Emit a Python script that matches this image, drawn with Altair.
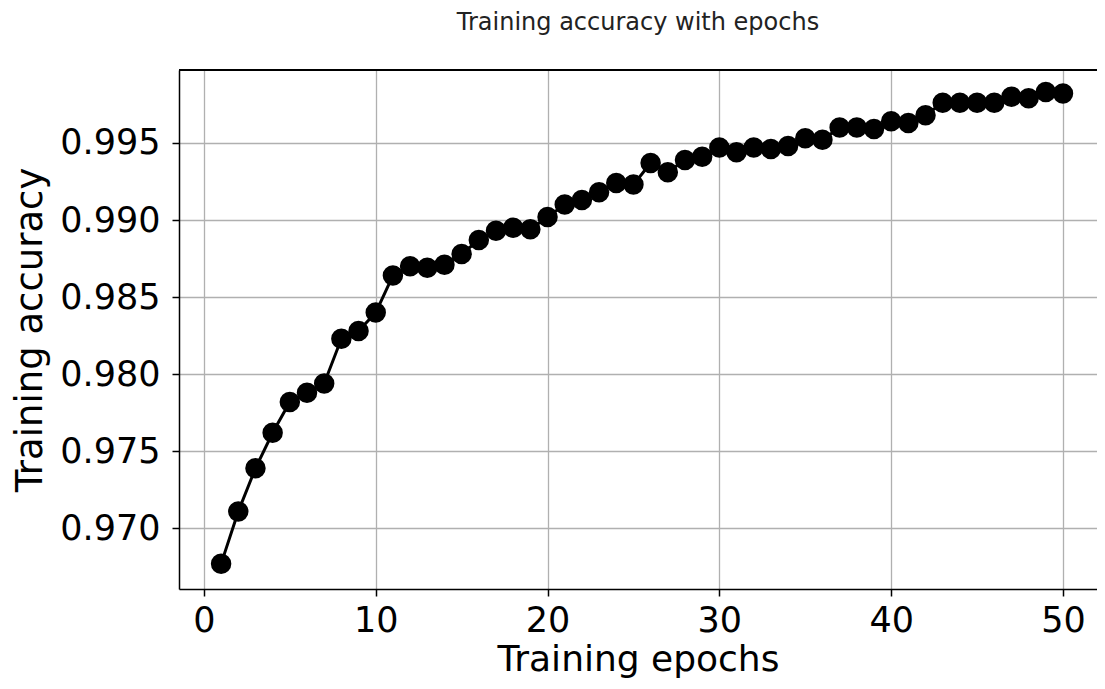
import altair as alt
import pandas as pd

epochs = [1, 2, 3, 4, 5, 6, 7, 8, 9, 10,
          11, 12, 13, 14, 15, 16, 17, 18, 19, 20,
          21, 22, 23, 24, 25, 26, 27, 28, 29, 30,
          31, 32, 33, 34, 35, 36, 37, 38, 39, 40,
          41, 42, 43, 44, 45, 46, 47, 48, 49, 50]
accuracy = [0.9677, 0.9711, 0.9739, 0.9762, 0.9782, 0.9788, 0.9794, 0.9823, 0.9828, 0.9840,
            0.9864, 0.9870, 0.9869, 0.9871, 0.9878, 0.9887, 0.9893, 0.9895, 0.9894, 0.9902,
            0.9910, 0.9913, 0.9918, 0.9924, 0.9923, 0.9937, 0.9931, 0.9939, 0.9941, 0.9947,
            0.9944, 0.9947, 0.9946, 0.9948, 0.9953, 0.9952, 0.9960, 0.9960, 0.9959, 0.9964,
            0.9963, 0.9968, 0.9976, 0.9976, 0.9976, 0.9976, 0.9980, 0.9979, 0.9983, 0.9982]
x_ticks = [0, 10, 20, 30, 40, 50]
y_ticks = [0.970, 0.975, 0.980, 0.985, 0.990, 0.995]

df = pd.DataFrame({"epoch": epochs, "acc": accuracy})

FONT = "DejaVu Sans"
W = 918
H = 519

base = alt.Chart(df).encode(
    x=alt.X("epoch:Q",
            scale=alt.Scale(domain=[-1.45, 51.98], nice=False, zero=False),
            axis=alt.Axis(values=x_ticks, title="Training epochs", format="d",
                          labelPadding=7, titlePadding=4, titleFontSize=36)),
    y=alt.Y("acc:Q",
            scale=alt.Scale(domain=[0.96607, 0.99973], nice=False, zero=False),
            axis=alt.Axis(values=y_ticks, title="Training accuracy", format=".3f",
                          labelPadding=12, titlePadding=10, titleFontSize=37)),
)

line = base.mark_line(color="black", strokeWidth=3, clip=True)
pts = base.mark_circle(size=420, color="black", opacity=1, clip=True)
top_border = alt.Chart(df).mark_rule(color="black", strokeWidth=1.5).encode(
    x=alt.value(0), x2=alt.value(W), y=alt.value(0)
)

chart = alt.layer(line, pts, top_border).properties(
    width=W,
    height=H,
    title=alt.TitleParams("Training accuracy with epochs", font=FONT, fontSize=24,
                          fontWeight="normal", color="#222222", anchor="middle", offset=34),
    autosize=alt.AutoSizeParams(type="none"),
    padding={"left": 171, "top": 62, "right": 0, "bottom": 92},
    background="white",
).configure_view(
    strokeWidth=0
).configure_axis(
    labelFont=FONT, labelFontSize=35, labelColor="black",
    titleFont=FONT, titleFontWeight="normal", titleColor="black",
    grid=True, gridColor="#b0b0b0", gridWidth=1.3, gridOpacity=1,
    domainColor="black", domainWidth=1.5,
    tickColor="black", tickWidth=1.5, tickSize=7,
)

chart.save("out.html", embed_options={"renderer": "svg", "actions": False})
